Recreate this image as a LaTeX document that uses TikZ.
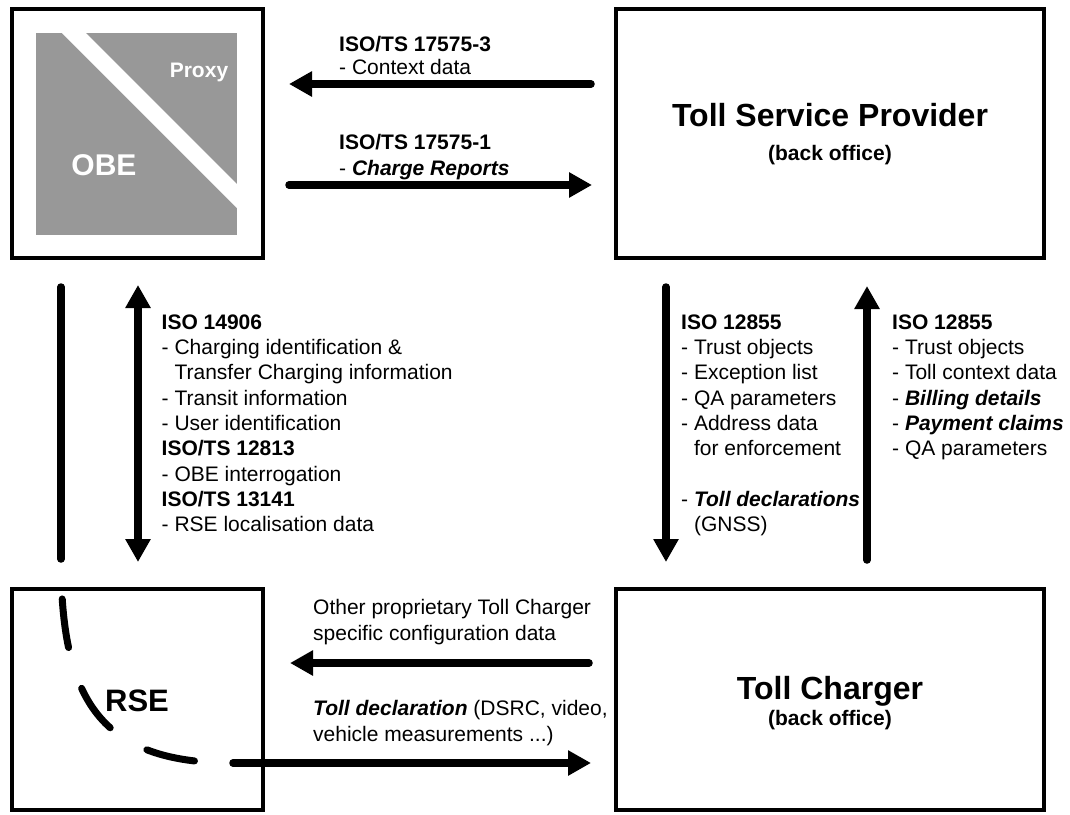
\documentclass[tikz,border=0pt]{standalone}
\usepackage{fontspec}
\setmainfont{Liberation Sans}
\usetikzlibrary{arrows.meta}

\definecolor{obegray}{RGB}{152,152,152}
\tikzset{
  box/.style={draw=black, line width=3.5pt, outer sep=0pt, inner sep=0pt},
  flow/.style={line width=7.5pt, line cap=round, -{Triangle[length=23pt,width=24pt]}},
  bothflow/.style={line width=7.5pt, {Triangle[length=23pt,width=24pt]}-{Triangle[length=23pt,width=24pt]}},
  plain/.style={line width=7.5pt, line cap=round},
  dashcurve/.style={line width=7pt, line cap=round, dash pattern=on 49pt off 43pt, dash phase=52pt},
  lbl/.style={anchor=north west, inner sep=0pt, align=left, font=\fontsize{21}{25.3}\selectfont},
  title/.style={anchor=base, inner sep=0pt, font=\bfseries\fontsize{32}{36}\selectfont},
  subtitle/.style={anchor=base, inner sep=0pt, font=\bfseries\fontsize{21}{25}\selectfont},
}

\begin{document}
\begin{tikzpicture}[x=1pt,y=1pt]
\useasboundingbox (0,0) rectangle (1070,-814);
% the four parties
\node[box, minimum width=251pt, minimum height=249pt] (obe) at (137.5,-133.5) {};
\node[box, minimum width=428pt, minimum height=249pt] (tsp) at (830,-133.5) {};
\node[box, minimum width=251pt, minimum height=221pt] (rse) at (137.5,-699.5) {};
\node[box, minimum width=428pt, minimum height=221pt] (tc) at (830,-699.5) {};
% OBE with proxy
\fill[obegray] (36,-33) rectangle (237,-235);
\fill[white] (62,-33) -- (86,-33) -- (237,-184) -- (237,-208) -- cycle;
\node[title, text=white, font=\bfseries\fontsize{30}{34}\selectfont] (obename) at (104,-175.7) {OBE};
\node[subtitle, text=white] (proxyname) at (199,-77.3) {Proxy};
\node[title, font=\bfseries\fontsize{31}{34}\selectfont] (rsename) at (137,-711) {RSE};
\node[title] (tspname) at (830,-126.5) {Toll Service Provider};
\node[subtitle] (tspsub) at (830,-160.5) {(back office)};
\node[title] (tcname) at (830,-699.5) {Toll Charger};
\node[subtitle] (tcsub) at (830,-725.5) {(back office)};
% lanes
\coordinate (ctx) at (0,-84);
\coordinate (rpt) at (0,-185);
\coordinate (cfg) at (0,-663);
\coordinate (lane0) at (61,0);
\coordinate (lane1) at (138,0);
\coordinate (lane2) at (666,0);
\coordinate (lane3) at (867,0);
\coordinate (bend) at (61,-559);
\coordinate (corner) at (233,-763);
% connectors
\draw[flow, shorten <=25pt, shorten >=26pt] (tsp.west |- ctx) -- (obe.east |- ctx);
\draw[flow, shorten <=26pt, shorten >=24pt] (obe.east |- rpt) -- (tsp.west |- rpt);
\draw[plain, shorten <=29pt] (obe.south -| lane0) -- (bend);
\draw[dashcurve] (bend) .. controls (61,-700) and (100,-763) .. (corner);
\draw[flow, shorten >=25pt] (corner) -- (tc.west |- corner);
\draw[bothflow, shorten <=27pt, shorten >=27pt] (obe.south -| lane1) -- (rse.north -| lane1);
\draw[flow, shorten <=29pt, shorten >=27pt] (tsp.south -| lane2) -- (tc.north -| lane2);
\draw[flow, shorten <=29pt, shorten >=28pt] (tc.north -| lane3) -- (tsp.south -| lane3);
\draw[flow, shorten <=27pt, shorten >=27pt] (tc.west |- cfg) -- (rse.east |- cfg);
% labels
\node[lbl] (ctxlbl) at (339,-36.5) {\textbf{ISO/TS 17575-3}\\[-2.3pt] - Context data};
\node[lbl] (rptlbl) at (339,-134.5) {\textbf{ISO/TS 17575-1}\\ - \textbf{\textit{Charge Reports}}};
\node[lbl] (dsrclbl) at (161.5,-314.5) {\textbf{ISO 14906}\\
  - Charging identification \&\\
  \phantom{- }Transfer Charging information\\
  - Transit information\\
  - User identification\\
  \textbf{ISO/TS 12813}\\
  - OBE interrogation\\
  \textbf{ISO/TS 13141}\\
  - RSE localisation data};
\node[lbl] (enflbl) at (681,-314.5) {\textbf{ISO 12855}\\
  - Trust objects\\
  - Exception list\\
  - QA parameters\\
  - Address data\\
  \phantom{- }for enforcement\\[25.3pt]
  - \textbf{\textit{Toll declarations}}\\
  \phantom{- }(GNSS)};
\node[lbl] (billlbl) at (892,-314.5) {\textbf{ISO 12855}\\
  - Trust objects\\
  - Toll context data\\
  - \textbf{\textit{Billing details}}\\
  - \textbf{\textit{Payment claims}}\\
  - QA parameters};
\node[lbl] (cfglbl) at (313,-599.5) {Other proprietary Toll Charger\\ specific configuration data};
\node[lbl] (decllbl) at (313,-700.5) {\textbf{\textit{Toll declaration}} (DSRC, video,\\ vehicle measurements ...)};
\end{tikzpicture}
\end{document}
